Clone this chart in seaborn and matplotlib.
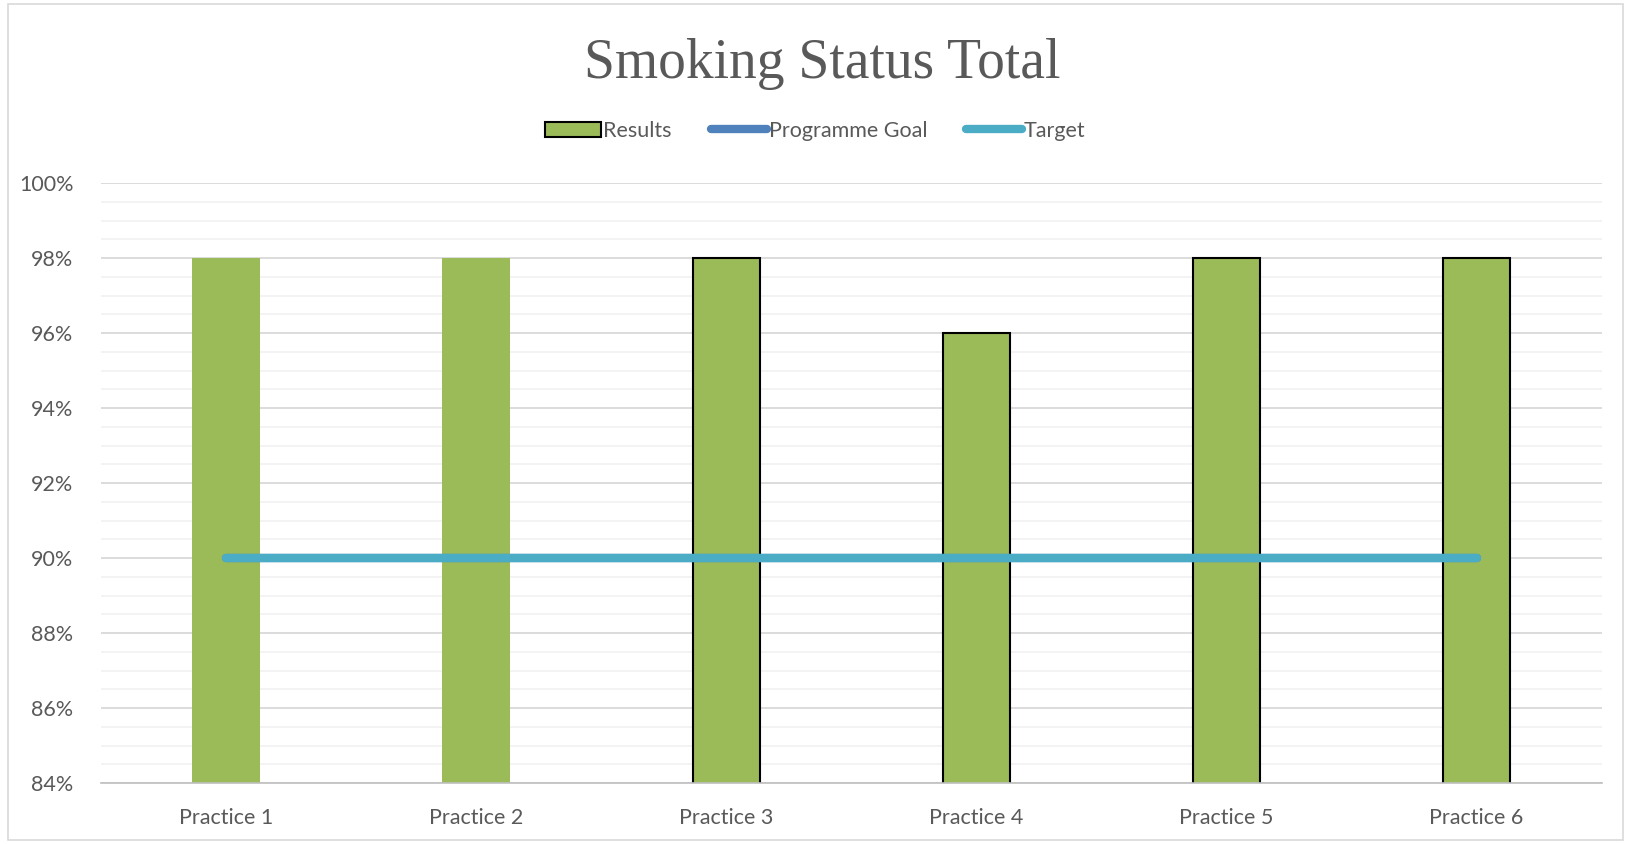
import numpy as np
import pandas as pd
import seaborn as sns
import matplotlib.pyplot as plt
from matplotlib.ticker import PercentFormatter, MultipleLocator, FixedLocator, NullFormatter
from matplotlib.patches import Patch
from matplotlib.lines import Line2D

practices = ['Practice 1', 'Practice 2', 'Practice 3', 'Practice 4', 'Practice 5', 'Practice 6']
results = [0.98, 0.98, 0.98, 0.96, 0.98, 0.98]
programme_goal = [0.90, 0.90, 0.90, 0.90, 0.90, 0.90]
target = [0.90, 0.90, 0.90, 0.90, 0.90, 0.90]

green = '#9BBB59'
blue = '#4F81BD'
teal = '#4BACC6'
grey_txt = '#595959'

sns.set_style('white')
plt.rcParams['font.family'] = ['Lato', 'DejaVu Sans']

df = pd.DataFrame({'practice': practices, 'results': results,
                   'goal': programme_goal, 'target': target})

fig = plt.figure(figsize=(16.31, 8.44), dpi=100)
ax = fig.add_axes([0.062, 0.072, 0.92, 0.711])

sns.barplot(data=df, x='practice', y='results', color=green, width=0.27,
            saturation=1, ax=ax, zorder=2)
# bars 3-6 have a black outline in the original
for i, p in enumerate(ax.patches):
    if i >= 2:
        p.set_edgecolor('black')
        p.set_linewidth(1.5)
    else:
        p.set_linewidth(0)

ax.plot(range(len(practices)), df['goal'], color=blue, lw=6, solid_capstyle='round', zorder=3)
ax.plot(range(len(practices)), df['target'], color=teal, lw=6, solid_capstyle='round', zorder=4)

ax.set_xlim(-0.5, 5.5)
ax.set_ylim(0.84, 1.0)
ax.yaxis.set_major_locator(MultipleLocator(0.02))
ax.yaxis.set_minor_locator(MultipleLocator(0.005))
ax.yaxis.set_major_formatter(PercentFormatter(1.0, decimals=0))
ax.grid(axis='y', which='major', color='#D9D9D9', lw=1.3, zorder=0)
ax.grid(axis='y', which='minor', color='#F2F2F2', lw=1.3, zorder=0)
ax.set_axisbelow(True)

ax.xaxis.set_minor_locator(FixedLocator(np.arange(-0.5, 6.0, 1.0)))
ax.xaxis.set_minor_formatter(NullFormatter())
ax.tick_params(axis='x', which='major', length=0, labelsize=15.5, colors=grey_txt, pad=18)
ax.tick_params(axis='x', which='minor', length=7, color='#BFBFBF', width=1.2)
ax.tick_params(axis='y', which='both', length=0, labelsize=15.5, colors=grey_txt, pad=20)

for s in ['top', 'right', 'left']:
    ax.spines[s].set_visible(False)
ax.spines['bottom'].set_color('#BFBFBF')
ax.spines['bottom'].set_linewidth(1.2)
ax.set_xlabel('')
ax.set_ylabel('')

fig.text(0.504, 0.924, 'Smoking Status Total', ha='center', va='center',
         fontsize=40, color=grey_txt, family=['Liberation Serif', 'DejaVu Serif'])

handles = [Patch(facecolor=green, edgecolor='black', lw=1.5),
           Line2D([0], [0], color=blue, lw=6, solid_capstyle='round'),
           Line2D([0], [0], color=teal, lw=6, solid_capstyle='round')]
fig.legend(handles, ['Results', 'Programme Goal', 'Target'], loc='center',
           bbox_to_anchor=(0.5, 0.845), ncol=3, frameon=False, fontsize=15.5,
           labelcolor=grey_txt, handlelength=2.6, handletextpad=0.1, columnspacing=1.8)

# light border round the chart
fig.add_artist(plt.Rectangle((0.005, 0.005), 0.99, 0.99, transform=fig.transFigure,
                             fill=False, edgecolor='#D9D9D9', lw=1.2))

fig.savefig('out.png', dpi=100)
